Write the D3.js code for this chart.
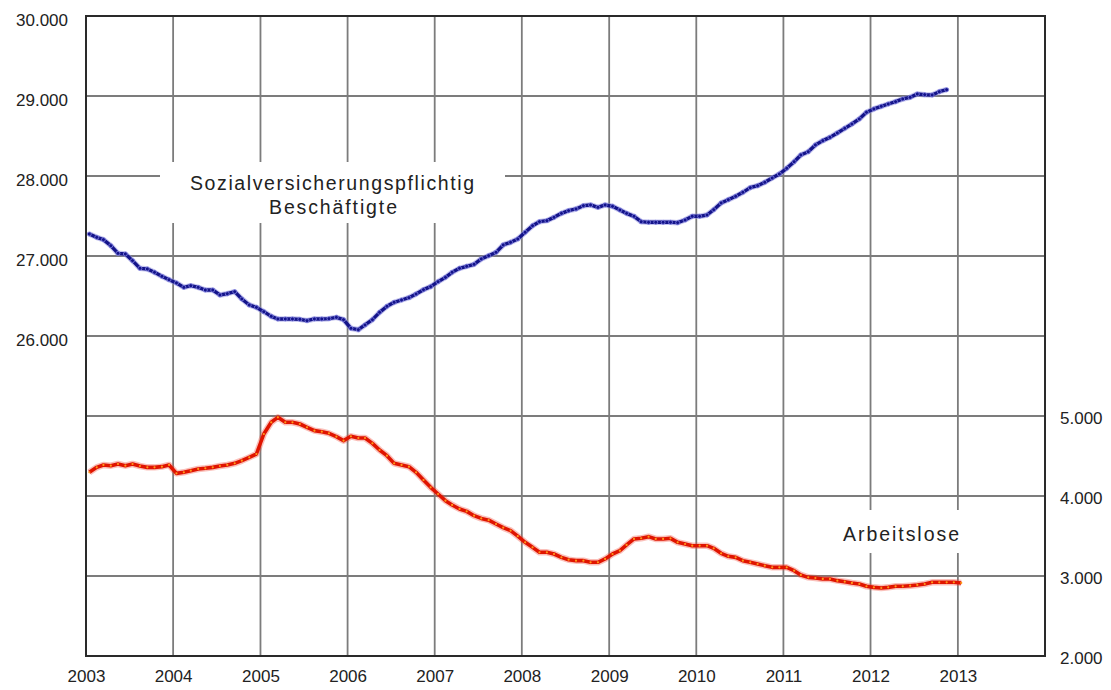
<!DOCTYPE html>
<html>
<head>
<meta charset="utf-8">
<script src="https://cdn.jsdelivr.net/npm/d3@7"></script>
<style>
  body { margin: 0; background: #fff; }
  text { font-family: "Liberation Sans", Arial, sans-serif; fill: #222; }
</style>
</head>
<body>
<div id="chart"></div>
<script>
// monthly values, seasonally adjusted (thousands)
let beschaeftigte = [
    27275, 27233, 27204, 27129, 27033, 27025, 26942, 26846, 26838, 26796, 26746, 26704,
    26663, 26608, 26629, 26608, 26575, 26575, 26513, 26529, 26554, 26463, 26388, 26358,
    26304, 26246, 26213, 26213, 26213, 26208, 26192, 26213, 26213, 26217, 26233, 26204,
    26096, 26079, 26138, 26204, 26296, 26371, 26421, 26450, 26479, 26525, 26579, 26617,
    26679, 26733, 26796, 26846, 26871, 26896, 26963, 27004, 27046, 27138, 27171, 27213,
    27296, 27379, 27429, 27442, 27483, 27533, 27567, 27588, 27629, 27638, 27608, 27638,
    27621, 27575, 27533, 27496, 27429, 27421, 27421, 27421, 27421, 27417, 27450, 27496,
    27496, 27513, 27579, 27663, 27704, 27746, 27796, 27854, 27879, 27921, 27975, 28025,
    28096, 28179, 28263, 28304, 28388, 28442, 28483, 28538, 28596, 28650, 28713, 28796,
    28838, 28871, 28900, 28929, 28963, 28983, 29025, 29017, 29013, 29054, 29079
];
let arbeitslose = [
    4296, 4358, 4388, 4379, 4400, 4379, 4400, 4375, 4358, 4358, 4367, 4388,
    4283, 4296, 4317, 4338, 4346, 4358, 4375, 4388, 4408, 4442, 4483, 4525,
    4775, 4921, 4983, 4921, 4921, 4900, 4858, 4817, 4804, 4783, 4742, 4692,
    4746, 4725, 4725, 4658, 4575, 4504, 4408, 4388, 4367, 4296, 4200, 4108,
    4025, 3942, 3888, 3838, 3808, 3754, 3720, 3698, 3650, 3604, 3567, 3498,
    3421, 3358, 3296, 3296, 3275, 3233, 3204, 3192, 3192, 3171, 3171, 3213,
    3275, 3317, 3388, 3463, 3471, 3492, 3463, 3463, 3471, 3421, 3400, 3379,
    3379, 3379, 3346, 3283, 3246, 3233, 3192, 3171, 3150, 3129, 3108, 3108,
    3108, 3067, 3013, 2983, 2975, 2963, 2963, 2942, 2929, 2913, 2900, 2871,
    2858, 2850, 2858, 2871, 2871, 2879, 2888, 2900, 2921, 2921, 2921, 2921,
    2913
];
let startYear = 2003;
let yearLabels = [2003, 2004, 2005, 2006, 2007, 2008, 2009, 2010, 2011, 2012, 2013];
let gridYears = [2003, 2004, 2005, 2006, 2007, 2008, 2009, 2010, 2011, 2012, 2013, 2014];
let leftTicks = [26000, 27000, 28000, 29000, 30000];
let rightTicks = [2000, 3000, 4000, 5000];
let gridLeft = [22000, 23000, 24000, 25000, 26000, 27000, 28000, 29000, 30000];

let w = 1111, h = 690;
let mLeft = 86, mRight = 1045, mTop = 16, mBottom = 656;

let de = d3.formatLocale({decimal: ",", thousands: ".", grouping: [3], currency: ["", " €"]});
let fmt = de.format(",");

let svg = d3.select("#chart").append("svg")
    .attr("width", w)
    .attr("height", h);

let x = d3.scaleTime()
    .domain([new Date(2003, 0, 1), new Date(2014, 0, 1)])
    .range([mLeft, mRight]);
let yL = d3.scaleLinear().domain([22000, 30000]).range([mBottom, mTop]);
let yR = d3.scaleLinear().domain([2000, 10000]).range([mBottom, mTop]);

let monthDate = i => new Date(startYear, i, 15);

// grid
let grid = svg.append("g").attr("stroke", "#7c7c7c").attr("stroke-width", 1.8);
grid.selectAll(".vg")
    .data(gridYears)
    .enter()
    .append("line")
    .attr("x1", d => x(new Date(d, 0, 1)))
    .attr("x2", d => x(new Date(d, 0, 1)))
    .attr("y1", mTop)
    .attr("y2", mBottom);
grid.selectAll(".hg")
    .data(gridLeft)
    .enter()
    .append("line")
    .attr("x1", mLeft)
    .attr("x2", mRight)
    .attr("y1", d => yL(d))
    .attr("y2", d => yL(d));

// white boxes behind the series labels
svg.append("rect")
    .attr("x", 160).attr("y", 162)
    .attr("width", 345).attr("height", 61)
    .attr("fill", "#fff");
svg.append("rect")
    .attr("x", 822).attr("y", 510)
    .attr("width", 150).attr("height", 43)
    .attr("fill", "#fff");

// frame
svg.append("rect")
    .attr("x", mLeft).attr("y", mTop)
    .attr("width", mRight - mLeft).attr("height", mBottom - mTop)
    .attr("fill", "none")
    .attr("stroke", "#2a2a2a")
    .attr("stroke-width", 2);

// series
let lineB = d3.line()
    .x((d, i) => x(monthDate(i)))
    .y(d => yL(d));
let lineA = d3.line()
    .x((d, i) => x(monthDate(i)))
    .y(d => yR(d));

svg.append("path")
    .datum(arbeitslose)
    .attr("d", lineA)
    .attr("fill", "none")
    .attr("stroke", "#f04a3a")
    .attr("stroke-opacity", 0.35)
    .attr("stroke-width", 6.5)
    .attr("stroke-linejoin", "round");
svg.append("path")
    .datum(arbeitslose)
    .attr("d", lineA)
    .attr("fill", "none")
    .attr("stroke", "#e01400")
    .attr("stroke-width", 3.6)
    .attr("stroke-linejoin", "round");
svg.append("g").selectAll("circle")
    .data(arbeitslose)
    .enter()
    .append("circle")
    .attr("cx", (d, i) => x(monthDate(i)))
    .attr("cy", d => yR(d))
    .attr("r", 1.1)
    .attr("fill", "#ff9a1a");

svg.append("path")
    .datum(beschaeftigte)
    .attr("d", lineB)
    .attr("fill", "none")
    .attr("stroke", "#8c8ce0")
    .attr("stroke-opacity", 0.5)
    .attr("stroke-width", 5.5)
    .attr("stroke-linejoin", "round");
svg.append("path")
    .datum(beschaeftigte)
    .attr("d", lineB)
    .attr("fill", "none")
    .attr("stroke", "#14148a")
    .attr("stroke-width", 3.4)
    .attr("stroke-linejoin", "round");
svg.append("g").selectAll("circle")
    .data(beschaeftigte)
    .enter()
    .append("circle")
    .attr("cx", (d, i) => x(monthDate(i)))
    .attr("cy", d => yL(d))
    .attr("r", 2)
    .attr("fill", "#14148a")
    .attr("stroke", "#7a7adc")
    .attr("stroke-width", 0.9);

// axis labels
let axL = d3.axisLeft(yL).tickValues(leftTicks).tickFormat(fmt).tickSize(0).tickPadding(18);
let gL = svg.append("g").attr("transform", `translate(${mLeft},0)`).call(axL);
let axR = d3.axisRight(yR).tickValues(rightTicks).tickFormat(fmt).tickSize(0).tickPadding(15);
let gR = svg.append("g").attr("transform", `translate(${mRight},0)`).call(axR);
let axX = d3.axisBottom(x)
    .tickValues(yearLabels.map(d => new Date(d, 0, 1)))
    .tickFormat(d3.timeFormat("%Y"))
    .tickSize(0).tickPadding(14);
let gX = svg.append("g").attr("transform", `translate(0,${mBottom})`).call(axX);
[gL, gR, gX].forEach(g => {
    g.select(".domain").remove();
    g.selectAll("text")
        .attr("font-family", "Liberation Sans, Arial, sans-serif")
        .attr("font-size", 17)
        .attr("fill", "#222");
});
gL.selectAll("text").attr("dy", "0.55em");
gR.selectAll("text").attr("dy", "0.45em");

// series labels
svg.append("text")
    .attr("x", 332).attr("y", 190)
    .attr("text-anchor", "middle")
    .attr("font-size", 19.5)
    .attr("textLength", 284)
    .attr("lengthAdjust", "spacing")
    .text("Sozialversicherungspflichtig");
svg.append("text")
    .attr("x", 333).attr("y", 214)
    .attr("text-anchor", "middle")
    .attr("font-size", 19.5)
    .attr("textLength", 128)
    .attr("lengthAdjust", "spacing")
    .text("Beschäftigte");
svg.append("text")
    .attr("x", 901).attr("y", 541)
    .attr("text-anchor", "middle")
    .attr("font-size", 19.5)
    .attr("textLength", 116)
    .attr("lengthAdjust", "spacing")
    .text("Arbeitslose");
</script>
</body>
</html>
